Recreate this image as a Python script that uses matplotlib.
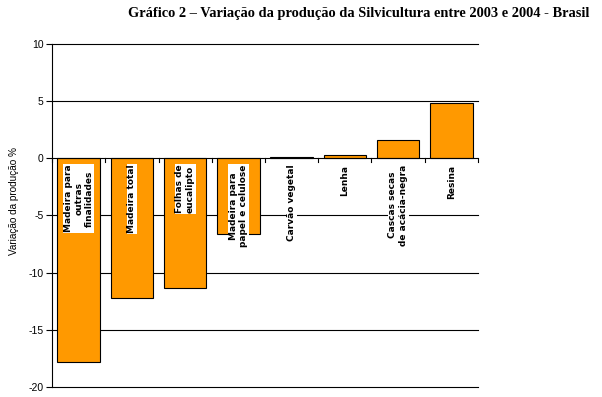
import matplotlib
matplotlib.use("Agg")
import matplotlib.pyplot as plt
import numpy as np

categories = ["Madeira para\noutras\nfinalidades", "Madeira total", "Folhas de\neucalipto",
              "Madeira para\npapel e celulose", "Carvão vegetal", "Lenha",
              "Cascas secas\nde acácia-negra", "Resina"]
values = [-17.8, -12.2, -11.3, -6.6, 0.1, 0.25, 1.6, 4.8]
yticks = [10, 5, 0, -5, -10, -15, -20]

fig = plt.figure(figsize=(6.02, 3.97), dpi=100)
ax = fig.add_axes([0.0864, 0.0252, 0.7076, 0.864])

x = np.arange(len(categories))
ax.bar(x, values, width=0.8, color="#FF9900", edgecolor="black", linewidth=0.8, zorder=3)

ax.set_xlim(-0.5, len(categories) - 0.5)
ax.set_ylim(-20, 10)
ax.set_yticks(yticks)
ax.set_yticklabels([str(v) for v in yticks], fontsize=7.5, family="Liberation Sans")
for v in yticks:
    if v != 0:
        ax.axhline(v, color="black", linewidth=0.8, zorder=1, clip_on=False)
ax.axhline(0, color="black", linewidth=0.8, zorder=4)
# category boundary ticks on zero line
for b in np.arange(-0.5, len(categories) + 0.5, 1.0):
    ax.plot([b, b], [0, -0.35], color="black", linewidth=0.8, zorder=4, clip_on=False)

ax.set_xticks([])
for s in ["top", "right", "bottom"]:
    ax.spines[s].set_visible(False)
ax.spines["left"].set_linewidth(0.8)
ax.tick_params(axis="y", length=4, width=0.8, pad=2)

for xi, lab in zip(x, categories):
    ax.text(xi, -0.55, lab, rotation=90, ha="center", va="top", multialignment="center",
            fontsize=6.5, fontweight="bold", family="DejaVu Sans", zorder=5,
            bbox=dict(facecolor="white", edgecolor="none", pad=0.6))

ax.set_ylabel("Variação da produção %", fontsize=7.2, family="Liberation Sans")
ax.yaxis.set_label_coords(-0.077, 0.542)

fig.text(0.596, 0.965, "Gráfico 2 – Variação da produção da Silvicultura entre 2003 e 2004 - Brasil",
         ha="center", va="center", fontsize=10.4, fontweight="bold", family="Liberation Serif")

fig.savefig("out.png", dpi=100)
